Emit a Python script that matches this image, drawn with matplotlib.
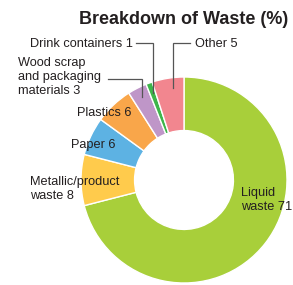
import numpy as np
import matplotlib.pyplot as plt

labels = ["Liquid\nwaste 71", "Metallic/product\nwaste 8", "Paper 6", "Plastics 6",
          "Wood scrap\nand packaging\nmaterials 3", "Drink containers 1", "Other 5"]
values = [71, 8, 6, 6, 3, 1, 5]
colors = ["#a8cf3a", "#ffcb4c", "#5db2e3", "#f9a64a", "#bf96c8", "#3db54a", "#f2868f"]

# figure pixels -> data units (pie centre at px (184,180), radius 103 px)
W, H = 293, 285
CX, CY, R = 184, 180, 103


def px(x, y):
    return (x - CX) / R, (CY - y) / R


fig = plt.figure(figsize=(W / 100, H / 100), dpi=100)
ax = fig.add_axes([0, 0, 1, 1])

ax.pie(values, colors=colors, startangle=90, counterclock=False, radius=1,
       wedgeprops=dict(width=0.52, edgecolor="white", linewidth=1))
ax.set_aspect("auto")
ax.set_xlim(px(0, 0)[0], px(W, 0)[0])
ax.set_ylim(px(0, H)[1], px(0, 0)[1])
ax.axis("off")

font = dict(family="Liberation Sans", fontsize=9.2, color="#231f20")
ax.text(*px(184, 19), "Breakdown of Waste (%)", ha="center", va="center",
        fontsize=13, fontweight="bold", family="Liberation Sans", color="#231f20")

# label anchor (pixels) and alignment
pos = {
    0: (241, 200, "left"),
    1: (30, 189, "left"),
    2: (115, 145, "right"),
    3: (131, 113, "right"),
    4: (18, 77, "left"),
    5: (133, 44, "right"),
    6: (195, 44, "left"),
}
for i, (x, y, ha) in pos.items():
    ax.text(*px(x, y), labels[i], ha=ha, va="center", linespacing=1.2, **font)

# leader lines: from wedge (mid angle, r=0.9) up to label, then across
cum = np.cumsum([0] + values)
leaders = {4: (79, 108), 5: (43, 136), 6: (43, 190)}
for i, (ly, lx) in leaders.items():
    ang = np.deg2rad(90 - 360 * (cum[i] + values[i] / 2) / 100)
    if i == 6:
        ang = np.deg2rad(96.8)
    x0, y0 = 0.9 * np.cos(ang), 0.9 * np.sin(ang)
    ytop = px(0, ly)[1]
    xend = px(lx, 0)[0]
    ax.plot([x0, x0, xend], [y0, ytop, ytop], color="#555555", lw=0.9,
            solid_joinstyle="miter")

plt.savefig("out.png", dpi=100)
